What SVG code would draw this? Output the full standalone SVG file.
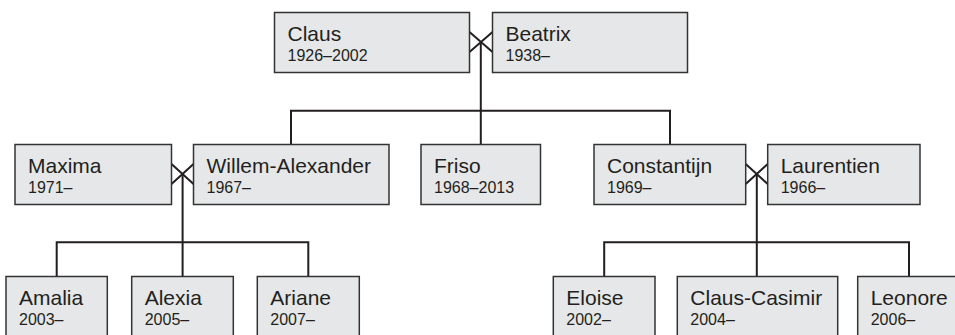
<svg xmlns="http://www.w3.org/2000/svg" width="955" height="335" viewBox="0 0 955 335">
<style>
.box{fill:#e6e7e8;stroke:#333;stroke-width:1.5}
.nm{font-family:"Liberation Sans",Arial,sans-serif;font-size:21px;fill:#231f20}
.yr{font-family:"Liberation Sans",Arial,sans-serif;font-size:16px;fill:#231f20}
.ln{fill:none;stroke:#231f20;stroke-width:2}
</style>
<rect width="955" height="335" fill="#fff"/>
<g id="connectors" class="ln">
<path d="M469.5,32 L492.5,52 M469.5,52 L492.5,32"/>
<path d="M480.8,42 V144.5"/>
<path d="M291,144.5 V110.7 H670 V144.5"/>
<path d="M171.5,164 L193.5,184 M171.5,184 L193.5,164"/>
<path d="M182.6,174 V276.5"/>
<path d="M56.7,276.5 V242.3 H308.3 V276.5"/>
<path d="M745.7,164 L767.7,184 M745.7,184 L767.7,164"/>
<path d="M756.8,174 V276.5"/>
<path d="M604.2,276.5 V242.3 H909 V276.5"/>
</g>
<g id="claus"><rect class="box" x="274.5" y="12.5" width="195" height="60"/><text class="nm" x="287.5" y="41">Claus</text><text class="yr" x="287.5" y="61">1926–2002</text></g>
<g id="beatrix"><rect class="box" x="492.5" y="12.5" width="195" height="60"/><text class="nm" x="505.5" y="41">Beatrix</text><text class="yr" x="505.5" y="61">1938–</text></g>
<g id="maxima"><rect class="box" x="15" y="144.5" width="156.5" height="60"/><text class="nm" x="28" y="173">Maxima</text><text class="yr" x="28" y="193">1971–</text></g>
<g id="willem-alexander"><rect class="box" x="193.5" y="144.5" width="195.5" height="60"/><text class="nm" x="206.5" y="173">Willem-Alexander</text><text class="yr" x="206.5" y="193">1967–</text></g>
<g id="friso"><rect class="box" x="421" y="144.5" width="119.5" height="60"/><text class="nm" x="434" y="173">Friso</text><text class="yr" x="434" y="193">1968–2013</text></g>
<g id="constantijn"><rect class="box" x="594" y="144.5" width="151.7" height="60"/><text class="nm" x="607" y="173">Constantijn</text><text class="yr" x="607" y="193">1969–</text></g>
<g id="laurentien"><rect class="box" x="767.7" y="144.5" width="152.3" height="60"/><text class="nm" x="780.7" y="173">Laurentien</text><text class="yr" x="780.7" y="193">1966–</text></g>
<g id="amalia"><rect class="box" x="6" y="276.5" width="101.3" height="65"/><text class="nm" x="19" y="305">Amalia</text><text class="yr" x="19" y="325">2003–</text></g>
<g id="alexia"><rect class="box" x="131.7" y="276.5" width="101.6" height="65"/><text class="nm" x="144.7" y="305">Alexia</text><text class="yr" x="144.7" y="325">2005–</text></g>
<g id="ariane"><rect class="box" x="257.3" y="276.5" width="102" height="65"/><text class="nm" x="270.3" y="305">Ariane</text><text class="yr" x="270.3" y="325">2007–</text></g>
<g id="eloise"><rect class="box" x="553.3" y="276.5" width="101.7" height="65"/><text class="nm" x="566.3" y="305">Eloise</text><text class="yr" x="566.3" y="325">2002–</text></g>
<g id="claus-casimir"><rect class="box" x="677.3" y="276.5" width="160.4" height="65"/><text class="nm" x="690.3" y="305">Claus-Casimir</text><text class="yr" x="690.3" y="325">2004–</text></g>
<g id="leonore"><rect class="box" x="857.7" y="276.5" width="102" height="65"/><text class="nm" x="870.7" y="305">Leonore</text><text class="yr" x="870.7" y="325">2006–</text></g>
</svg>
